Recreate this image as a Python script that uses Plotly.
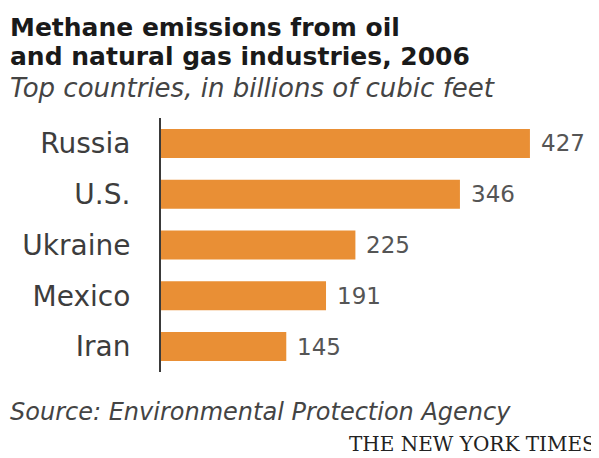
import plotly.graph_objects as go

countries = ["Russia", "U.S.", "Ukraine", "Mexico", "Iran"]
values = [427, 346, 225, 191, 145]

title_lines = ["Methane emissions from oil", "and natural gas industries, 2006"]
subtitle = "Top countries, in billions of cubic feet"
source = "Source: Environmental Protection Agency"
credit = "THE NEW YORK TIMES"

OFF = 8  # default page body margin
W, H = 599 - OFF, 458 - OFF
ML, MR, MT, MB = 161 - OFF, 0, 118 - OFF, 86
PW = W - ML - MR
PH = H - MT - MB
SCALE = 0.864  # px per unit

def px(x):
    return (x - OFF - ML) / PW

def py(y):
    return 1 - (y - OFF - MT) / PH

SANS = "DejaVu Sans, Verdana, Arial"

fig = go.Figure(go.Bar(
    x=values, y=countries, orientation="h",
    marker=dict(color="#E98F35", line=dict(width=0)),
    width=0.57, hoverinfo="skip",
))

fig.update_layout(
    width=W, height=H,
    margin=dict(l=ML, r=MR, t=MT, b=MB, autoexpand=False),
    paper_bgcolor="white", plot_bgcolor="white",
    showlegend=False,
    xaxis=dict(range=[0, PW / SCALE], visible=False, fixedrange=True),
    yaxis=dict(autorange="reversed", showline=True, linecolor="#3a3a3a", linewidth=2,
               ticks="", showgrid=False, ticklabelstandoff=23, automargin=False,
               tickfont=dict(family=SANS, size=28, color="#3d3d3d"), fixedrange=True),
)

annotations = []
for c, v in zip(countries, values):
    annotations.append(dict(xref="x", yref="y", x=v, y=c, text=str(v), showarrow=False,
                            xanchor="left", yanchor="middle", xshift=9,
                            font=dict(family=SANS, size=23, color="#555555")))

def left_text(text, x, y, size, color):
    return dict(xref="paper", yref="paper", xanchor="left", yanchor="middle",
                showarrow=False, text=text, x=px(x), y=py(y),
                font=dict(size=size, color=color, family=SANS))

annotations += [
    left_text("<b>" + title_lines[0] + "</b>", 8, 28, 25, "#1a1a1a"),
    left_text("<b>" + title_lines[1] + "</b>", 8, 57, 25, "#1a1a1a"),
    left_text("<i>" + subtitle + "</i>", 8, 88, 26, "#444444"),
    left_text("<i>" + source + "</i>", 8, 412, 24, "#444444"),
]
annotations.append(dict(xref="paper", yref="paper", xanchor="right", yanchor="middle",
                        showarrow=False, text=credit, x=px(598), y=py(444),
                        font=dict(size=20, color="#222222", family="DejaVu Serif, Liberation Serif")))
fig.update_layout(annotations=annotations)

fig.write_html("out.html")
